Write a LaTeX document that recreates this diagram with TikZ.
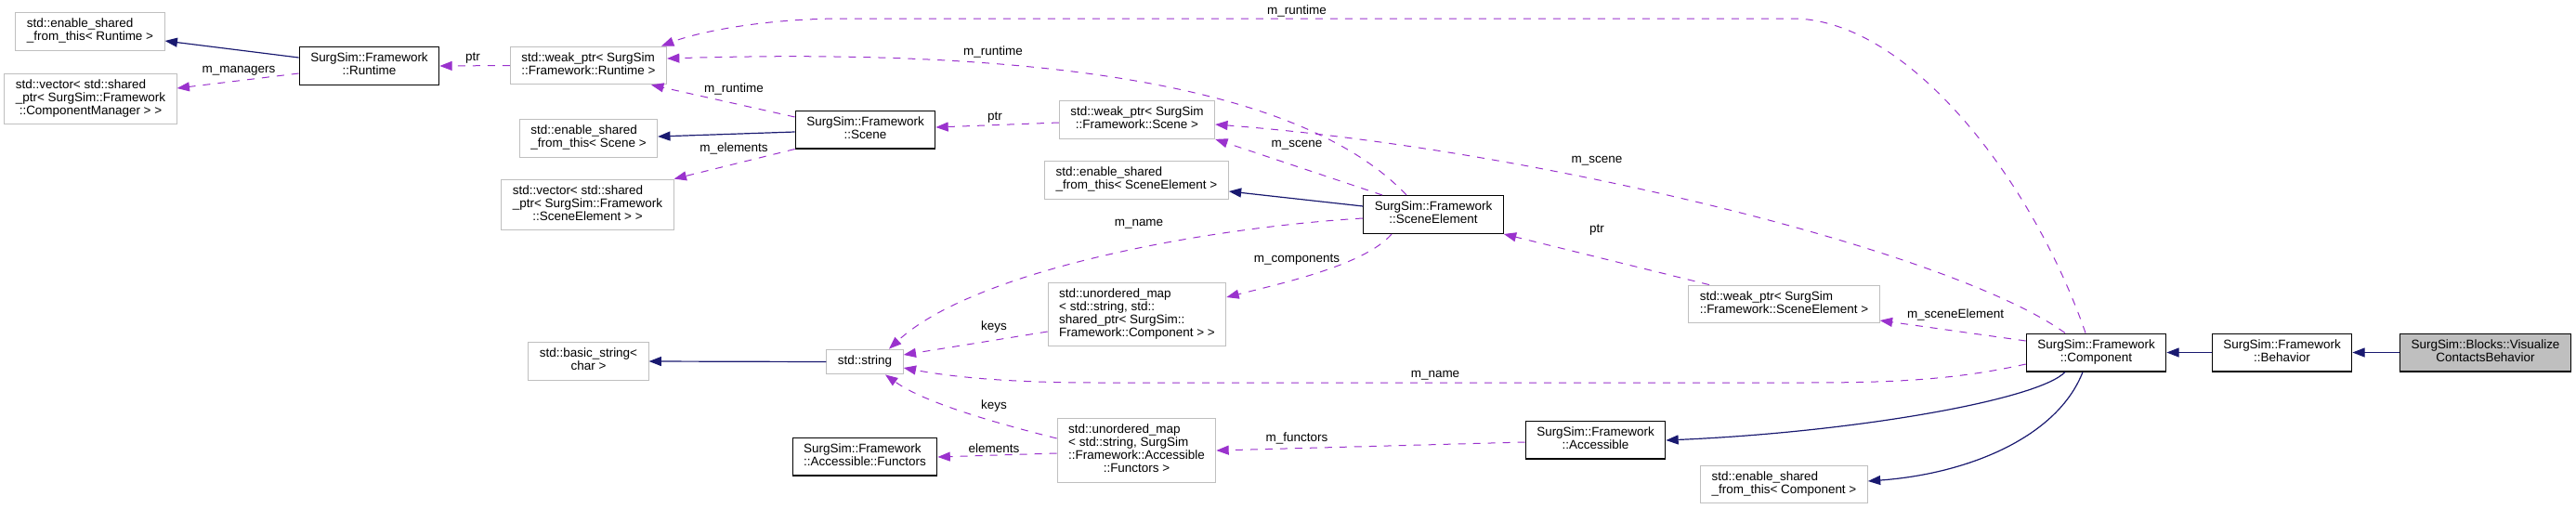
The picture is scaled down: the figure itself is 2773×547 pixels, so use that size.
\documentclass[tikz,border=0pt]{standalone}
\usepackage{fontspec}
\setmainfont{Liberation Sans}
\usetikzlibrary{arrows.meta}
\definecolor{inhblue}{RGB}{25,25,112}
\definecolor{usepurple}{RGB}{154,50,205}
\definecolor{boxgray}{RGB}{191,191,191}
\newcommand{\dfont}{\fontsize{10.1}{10.5}\selectfont}
\newcommand{\ltab}[1]{\begin{tabular}{@{}l@{}}#1\end{tabular}}
\newcommand{\ctab}[1]{\begin{tabular}{@{}c@{}}#1\end{tabular}}
\newcommand{\lastln}[1]{\multicolumn{1}{@{}c@{}}{#1}}

\begin{document}
\begin{tikzpicture}[x=0.75pt,y=-0.75pt,
  cls/.style={draw=black, line width=0.9pt, fill=white, inner xsep=9pt, inner ysep=4.8pt, font=\dfont},
  ext/.style={draw=boxgray, line width=0.75pt, fill=white, inner xsep=9pt, inner ysep=4.8pt, font=\dfont},
  inh/.style={inhblue, line width=0.9pt, -{Triangle[length=10pt,width=7.5pt]}},
  dep/.style={usepurple, line width=0.75pt, dash pattern=on 6pt off 6pt, -{Triangle[length=10pt,width=7.5pt]}},
  lbl/.style={font=\dfont, inner sep=0pt}]
\useasboundingbox (0,0) rectangle (2773,547);
% Classes and templates
\node[ext] (esftR) at (97,34) {\ltab{std::enable\_shared\\\lastln{\_from\_this< Runtime >}}};
\node[ext] (vecCM) at (97.5,106.5) {\ltab{std::vector< std::shared\\\_ptr< SurgSim::Framework\\\lastln{::ComponentManager > >}}};
\node[cls] (Runtime) at (397.5,71) {\ctab{SurgSim::Framework\\::Runtime}};
\node[ext] (weakR) at (633.5,70.5) {\ltab{std::weak\_ptr< SurgSim\\\lastln{::Framework::Runtime >}}};
\node[ext] (esftS) at (633.5,149) {\ltab{std::enable\_shared\\\lastln{\_from\_this< Scene >}}};
\node[ext] (vecSE) at (632.5,220.5) {\ltab{std::vector< std::shared\\\_ptr< SurgSim::Framework\\\lastln{::SceneElement > >}}};
\node[cls] (Scene) at (931.5,139.5) {\ctab{SurgSim::Framework\\::Scene}};
\node[ext] (weakS) at (1224,129) {\ltab{std::weak\_ptr< SurgSim\\\lastln{::Framework::Scene >}}};
\node[ext] (esftSE) at (1223.5,194) {\ltab{std::enable\_shared\\\lastln{\_from\_this< SceneElement >}}};
\node[cls] (SE) at (1543,231) {\ctab{SurgSim::Framework\\::SceneElement}};
\node[ext] (umapComp) at (1224,338.5) {\ltab{std::unordered\_map\\< std::string, std::\\shared\_ptr< SurgSim::\\\lastln{Framework::Component > >}}};
\node[ext] (basicstr) at (633.5,389) {\ltab{std::basic\_string<\\\lastln{char >}}};
\node[ext] (string) at (931,389.5) {\ltab{std::string}};
\node[cls] (Functors) at (931,491.5) {\ltab{SurgSim::Framework\\\lastln{::Accessible::Functors}}};
\node[ext] (umapAcc) at (1223.5,485) {\ltab{std::unordered\_map\\< std::string, SurgSim\\::Framework::Accessible\\\lastln{::Functors >}}};
\node[ext] (weakSE) at (1920.5,327.5) {\ltab{std::weak\_ptr< SurgSim\\\lastln{::Framework::SceneElement >}}};
\node[cls] (Component) at (2256.5,379.5) {\ctab{SurgSim::Framework\\::Component}};
\node[cls] (Behavior) at (2456.5,379.5) {\ctab{SurgSim::Framework\\::Behavior}};
\node[cls, fill=boxgray] (VCB) at (2675.5,379.5) {\ctab{SurgSim::Blocks::Visualize\\ContactsBehavior}};
\node[cls] (Accessible) at (1717.5,473.5) {\ctab{SurgSim::Framework\\::Accessible}};
\node[ext] (esftC) at (1920.5,521.5) {\ltab{std::enable\_shared\\\lastln{\_from\_this< Component >}}};
% Inheritance
\draw[inh] (Runtime.west |- 0,62) -- (esftR.east |- 0,44);
\draw[inh] (Scene.west |- 0,142) -- (esftS.east |- 0,147);
\draw[inh] (SE.west |- 0,222) -- (esftSE.east |- 0,206);
\draw[inh] (string.west) -- (basicstr.east);
\draw[inh] (Component.south -| 2223,0) .. controls (2195,430) and (2000,465) .. (Accessible.east |- 0,474);
\draw[inh] (Component.south -| 2242,0) .. controls (2215,470) and (2120,510) .. (esftC.east |- 0,518);
\draw[inh] (Behavior.west) -- (Component.east);
\draw[inh] (VCB.west) -- (Behavior.east);
% Usage
\draw[dep] (Runtime.west |- 0,79) -- (vecCM.east |- 0,95);
\draw[dep] (weakR.west) -- (Runtime.east);
\draw[dep] (Scene.west |- 0,126) -- (weakR.south -| 701,0);
\draw[dep] (Scene.south west) -- (vecSE.north east);
\draw[dep] (weakS.west |- 0,132) -- (Scene.east |- 0,137);
\draw[dep] (SE.north -| 1488,0) -- (weakS.south east);
\draw[dep] (SE.north -| 1514,0) .. controls (1410,100) and (1150,50) .. (weakR.east |- 0,63);
\draw[dep] (SE.west |- 0,235) .. controls (1300,245) and (1050,290) .. (string.north -| 957,0);
\draw[dep] (SE.south -| 1498,0) .. controls (1470,285) and (1380,305) .. (umapComp.east |- 0,320);
\draw[dep] (weakSE.north -| 1840,0) -- (SE.south east);
\draw[dep] (Component.north -| 2223,0) .. controls (2100,270) and (1650,160) .. (weakS.east |- 0,134);
\draw[dep] (Component.north -| 2245,0) .. controls (2190,200) and (2060,25) .. (1934,20)
  -- (908,20) .. controls (820,20) and (750,35) .. (weakR.north -| 712,0);
\draw[dep] (Component.west |- 0,367) -- (weakSE.east |- 0,345);
\draw[dep] (Component.west |- 0,392) .. controls (2100,410) and (2030,412) .. (1940,412)
  -- (1180,412) .. controls (1080,412) and (1020,405) .. (string.east |- 0,396);
\draw[dep] (umapComp.west |- 0,357) -- (string.east |- 0,382);
\draw[dep] (umapAcc.west |- 0,472) .. controls (1050,450) and (990,430) .. (string.south -| 953,0);
\draw[dep] (umapAcc.west |- 0,488) -- (Functors.east |- 0,492);
\draw[dep] (Accessible.west |- 0,476) -- (umapAcc.east |- 0,485);
% Edge labels
\node[lbl] (lManagers) at (257,76) {m\_managers};
\node[lbl] (lPtrR) at (509,63) {ptr};
\node[lbl] (lRuntimeC) at (1396,12) {m\_runtime};
\node[lbl] (lRuntimeSE) at (1069,56) {m\_runtime};
\node[lbl] (lRuntimeS) at (790,96) {m\_runtime};
\node[lbl] (lElementsS) at (790,160) {m\_elements};
\node[lbl] (lPtrS) at (1071,127) {ptr};
\node[lbl] (lSceneSE) at (1396,156) {m\_scene};
\node[lbl] (lSceneC) at (1719,173) {m\_scene};
\node[lbl] (lNameSE) at (1226,241) {m\_name};
\node[lbl] (lComponents) at (1396,280) {m\_components};
\node[lbl] (lPtrSE) at (1719,248) {ptr};
\node[lbl] (lSceneElement) at (2105,339) {m\_sceneElement};
\node[lbl] (lKeysC) at (1070,352) {keys};
\node[lbl] (lNameC) at (1545,404) {m\_name};
\node[lbl] (lKeysA) at (1070,437) {keys};
\node[lbl] (lElements) at (1070,483) {elements};
\node[lbl] (lFunctors) at (1396,472) {m\_functors};
\end{tikzpicture}
\end{document}
